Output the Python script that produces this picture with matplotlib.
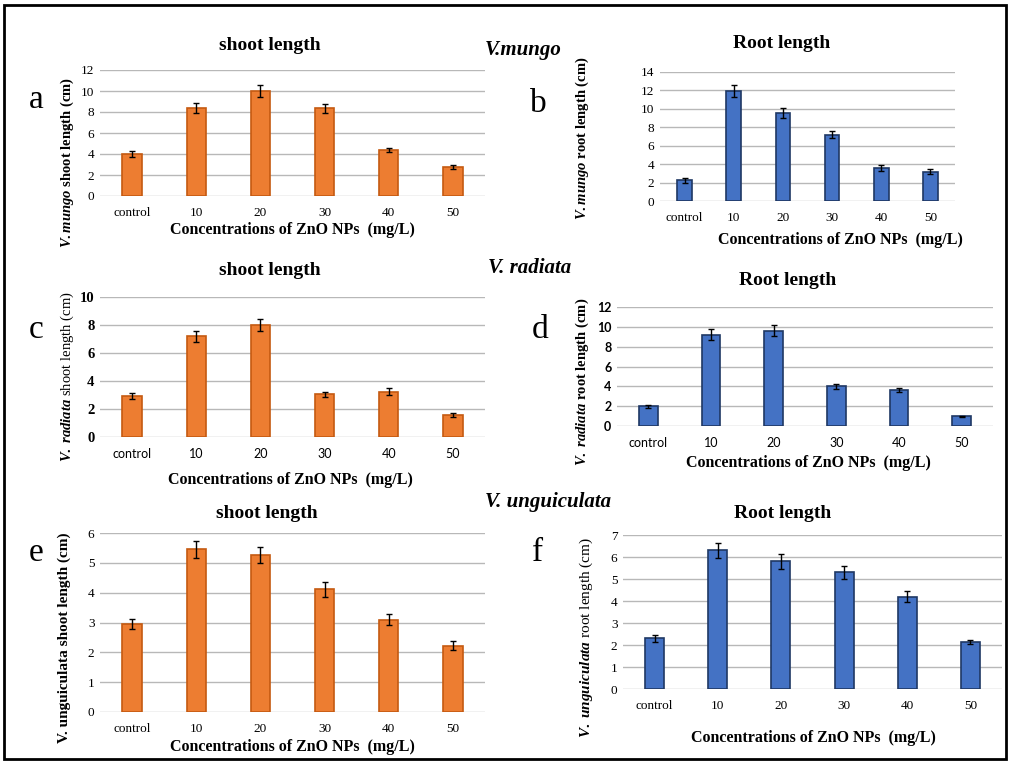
import matplotlib
matplotlib.use("Agg")
import matplotlib.pyplot as plt
from matplotlib.patches import Rectangle

plt.rcParams["font.family"] = ["Liberation Serif", "DejaVu Serif"]
plt.rcParams["mathtext.fontset"] = "custom"
plt.rcParams["mathtext.it"] = "Liberation Serif:italic:bold"
plt.rcParams["mathtext.rm"] = "Liberation Serif:bold"

categories = ["control", "10", "20", "30", "40", "50"]

mungo_shoot = [4.0, 8.4, 10.0, 8.35, 4.35, 2.75]
mungo_shoot_err = [0.3, 0.45, 0.55, 0.45, 0.2, 0.2]
mungo_root = [2.25, 11.95, 9.55, 7.2, 3.6, 3.2]
mungo_root_err = [0.25, 0.65, 0.5, 0.35, 0.3, 0.3]

radiata_shoot = [2.95, 7.2, 8.0, 3.05, 3.25, 1.55]
radiata_shoot_err = [0.2, 0.4, 0.45, 0.2, 0.25, 0.15]
radiata_root = [2.0, 9.2, 9.6, 4.0, 3.6, 1.0]
radiata_root_err = [0.15, 0.55, 0.55, 0.25, 0.2, 0.05]

ungui_shoot = [2.95, 5.45, 5.25, 4.12, 3.1, 2.22]
ungui_shoot_err = [0.18, 0.28, 0.27, 0.25, 0.17, 0.15]
ungui_root = [2.3, 6.3, 5.8, 5.3, 4.2, 2.15]
ungui_root_err = [0.15, 0.35, 0.33, 0.3, 0.25, 0.1]

W, H = 1010, 764
ORANGE, ORANGE_EDGE = "#ED7D31", "#C55A11"
BLUE, BLUE_EDGE = "#4472C4", "#1F3864"
XLAB = "Concentrations of ZnO NPs  (mg/L)"

fig = plt.figure(figsize=(W / 100, H / 100), dpi=100)


def px(x, y):
    return x / W, 1 - y / H


def panel(rect, vals, errs, ymax, step, color, edge, xfont, yfont, tsize, ysize=None, ybold=False):
    x0, y0, x1, y1 = rect
    ax = fig.add_axes([x0 / W, 1 - y1 / H, (x1 - x0) / W, (y1 - y0) / H])
    ax.bar(range(len(vals)), vals, width=0.3, color=color, edgecolor=edge,
           linewidth=1.2, yerr=errs, capsize=2.5,
           error_kw=dict(ecolor="black", elinewidth=1, capthick=1), zorder=3)
    ax.set_xlim(-0.5, len(vals) - 0.5)
    ax.set_ylim(0, ymax)
    ax.set_yticks(range(0, ymax + 1, step))
    ax.set_xticks(range(len(vals)))
    ax.set_xticklabels(categories)
    ax.grid(axis="y", color="#B8B8B8", linewidth=1, zorder=0)
    for s in ["top", "right", "left", "bottom"]:
        ax.spines[s].set_visible(False)
    ax.tick_params(length=0, labelsize=tsize, pad=4)
    ax.tick_params(axis="x", pad=8)
    if ysize:
        ax.tick_params(axis="y", labelsize=ysize)
    for t in ax.get_xticklabels():
        t.set_fontfamily(xfont)
    for t in ax.get_yticklabels():
        t.set_fontfamily(yfont)
        if ybold:
            t.set_fontweight("bold")
    return ax


def txt(x, y, s, **kw):
    fx, fy = px(x, y)
    fig.text(fx, fy, s, ha="center", va="center", **kw)


serif = ["Liberation Serif"]
sans = ["Lato"]
TITLE = 14
LETTER = 24
SPEC = 15
YL = 10.5

# a
panel((100, 70, 485, 196), mungo_shoot, mungo_shoot_err, 12, 2, ORANGE, ORANGE_EDGE, serif, serif, 9.5)
txt(270, 45, "shoot length", fontsize=TITLE, fontweight="bold")
txt(36, 100, "a", fontsize=LETTER)
txt(67, 162, r"$\mathit{V.mungo}$ shoot length (cm)", fontsize=YL, fontweight="bold", rotation=90)
txt(292, 230, XLAB, fontsize=11.5, fontweight="bold")

# b
panel((660, 72, 955, 201), mungo_root, mungo_root_err, 14, 2, BLUE, BLUE_EDGE, serif, serif, 9.5)
txt(782, 44, "Root length", fontsize=TITLE, fontweight="bold")
txt(523, 50, "V.mungo", fontsize=SPEC, fontweight="bold", style="italic")
txt(538, 104, "b", fontsize=LETTER)
txt(582, 138, r"$\mathit{V.mungo}$ root length (cm)", fontsize=YL, fontweight="bold", rotation=90)
txt(840, 240, XLAB, fontsize=11.5, fontweight="bold")

# c
panel((100, 297, 485, 437), radiata_shoot, radiata_shoot_err, 10, 2, ORANGE, ORANGE_EDGE, sans, serif, 9,
      ysize=10.5, ybold=True)
txt(270, 270, "shoot length", fontsize=TITLE, fontweight="bold")
txt(36, 330, "c", fontsize=LETTER)
txt(67, 377, r"$\mathit{V.\ radiata}$ shoot length (cm)", fontsize=YL, rotation=90)
txt(290, 480, XLAB, fontsize=11.5, fontweight="bold")

# d
panel((617, 307, 993, 426), radiata_root, radiata_root_err, 12, 2, BLUE, BLUE_EDGE, sans, sans, 9, ybold=True)
txt(788, 280, "Root length", fontsize=TITLE, fontweight="bold")
txt(530, 268, "V. radiata", fontsize=SPEC, fontweight="bold", style="italic")
txt(540, 330, "d", fontsize=LETTER)
txt(582, 382, r"$\mathit{V.\ radiata}$ root length (cm)", fontsize=YL, fontweight="bold", rotation=90)
txt(808, 463, XLAB, fontsize=11.5, fontweight="bold")

# e
panel((100, 533, 485, 712), ungui_shoot, ungui_shoot_err, 6, 1, ORANGE, ORANGE_EDGE, serif, serif, 9.5)
txt(267, 513, "shoot length", fontsize=TITLE, fontweight="bold")
txt(36, 553, "e", fontsize=LETTER)
txt(64, 638, "V. unguiculata shoot length (cm)", fontsize=11, fontweight="bold", rotation=90)
txt(292, 747, XLAB, fontsize=11.5, fontweight="bold")

# f
panel((623, 535, 1002, 689), ungui_root, ungui_root_err, 7, 1, BLUE, BLUE_EDGE, serif, serif, 9.5)
txt(783, 513, "Root length", fontsize=TITLE, fontweight="bold")
txt(548, 502, "V. unguiculata", fontsize=SPEC, fontweight="bold", style="italic")
txt(538, 553, "f", fontsize=LETTER)
txt(586, 638, r"$\mathit{V.\ unguiculata}$ root length (cm)", fontsize=11, rotation=90)
txt(813, 738, XLAB, fontsize=11.5, fontweight="bold")

fig.patches.append(Rectangle((0.004, 0.006), 0.992, 0.988, transform=fig.transFigure,
                             fill=False, edgecolor="black", linewidth=2))

fig.savefig("out.png", dpi=100)
